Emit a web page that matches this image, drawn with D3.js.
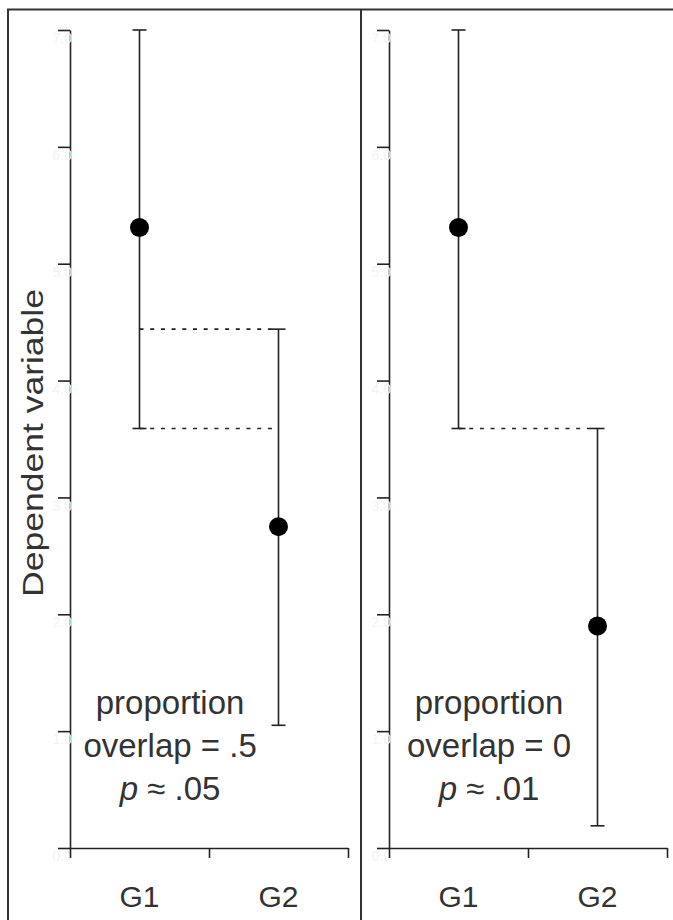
<!DOCTYPE html>
<html>
<head>
<meta charset="utf-8">
<script src="https://cdn.jsdelivr.net/npm/d3@7"></script>
<style>
  html, body { margin: 0; padding: 0; background: #fff; }
  svg { display: block; }
  text { font-family: "Liberation Sans", Arial, sans-serif; fill: #333; }
</style>
</head>
<body>
<svg id="chart" width="673" height="920"></svg>
<script>
(function () {
  'use strict';

  // Data
  const groups = ['G1', 'G2'];
  const groupPos = [0.5, 1.5];
  const xTicks = [0, 1, 2];
  const yTicks = [0, 1, 2, 3, 4, 5, 6, 7];

  const meansLeft = [5.31, 2.75];
  const lowerLeft = [3.59, 1.05];
  const upperLeft = [7.0, 4.44];

  const meansRight = [5.31, 1.90];
  const lowerRight = [3.59, 0.19];
  const upperRight = [7.0, 3.59];

  const notesLeft = ['proportion', 'overlap = .5', ['p', ' \u2248 .05']];
  const notesRight = ['proportion', 'overlap = 0', ['p', ' \u2248 .01']];

  const ink = '#222';
  const svg = d3.select('#chart');

  // outer frame + divider
  svg.append('rect')
    .attr('x', 8).attr('y', 9.5)
    .attr('width', 680).attr('height', 930)
    .attr('fill', 'none').attr('stroke', '#333').attr('stroke-width', 2);
  svg.append('line')
    .attr('x1', 361).attr('x2', 361).attr('y1', 9.5).attr('y2', 930)
    .attr('stroke', '#333').attr('stroke-width', 2);

  const y = d3.scaleLinear().domain([0, 7]).range([848, 30]);

  function drawPanel(left, means, lower, upper, notes, dashedAt) {
    const x = d3.scaleLinear().domain([0, 2]).range([left, left + 278]);
    const g = svg.append('g');

    // y axis (labels whited out in the original)
    const ya = g.append('g')
      .attr('transform', 'translate(' + left + ',0)')
      .call(d3.axisLeft(y).tickValues(yTicks).tickSize(12).tickSizeOuter(0));
    ya.selectAll('text').style('fill', '#f3f3f3').style('font-size', '14px')
      .attr('x', 2).attr('dy', '0.9em');

    // x axis
    const xa = g.append('g')
      .attr('transform', 'translate(0,848)')
      .call(d3.axisBottom(x).tickValues(xTicks).tickSize(10).tickSizeOuter(0).tickFormat(''));

    [ya, xa].forEach(function (a) {
      a.selectAll('path, line').attr('stroke', ink).attr('stroke-width', 1.6);
    });

    g.selectAll('.glabel')
      .data(groups)
      .join('text')
      .attr('x', (d, i) => x(groupPos[i]))
      .attr('y', 907)
      .attr('text-anchor', 'middle')
      .style('font-size', '30px')
      .text(d => d);

    // dotted overlap guides from G1 to G2
    g.selectAll('.guide')
      .data(dashedAt)
      .join('line')
      .attr('x1', x(groupPos[0]))
      .attr('x2', x(groupPos[1]) - 6)
      .attr('y1', d => y(d))
      .attr('y2', d => y(d))
      .attr('stroke', ink)
      .attr('stroke-width', 1.6)
      .attr('stroke-dasharray', '4,6.7');

    // error bars
    const bars = g.selectAll('.bar')
      .data(groups)
      .join('g');
    bars.append('line')
      .attr('x1', (d, i) => x(groupPos[i]))
      .attr('x2', (d, i) => x(groupPos[i]))
      .attr('y1', (d, i) => y(lower[i]))
      .attr('y2', (d, i) => y(upper[i]))
      .attr('stroke', ink).attr('stroke-width', 1.6);
    [lower, upper].forEach(function (arr) {
      bars.append('line')
        .attr('x1', (d, i) => x(groupPos[i]) - 7)
        .attr('x2', (d, i) => x(groupPos[i]) + 7)
        .attr('y1', (d, i) => y(arr[i]))
        .attr('y2', (d, i) => y(arr[i]))
        .attr('stroke', ink).attr('stroke-width', 1.6);
    });
    bars.append('circle')
      .attr('cx', (d, i) => x(groupPos[i]))
      .attr('cy', (d, i) => y(means[i]))
      .attr('r', 9.5)
      .attr('fill', '#000');

    // annotation
    const t = g.append('text')
      .attr('text-anchor', 'middle')
      .style('font-size', '33px');
    notes.forEach(function (line, i) {
      const ts = t.append('tspan')
        .attr('x', x(0.72))
        .attr('y', 714 + i * 43);
      if (Array.isArray(line)) {
        ts.append('tspan').style('font-style', 'italic').text(line[0]);
        t.append('tspan').text(line[1]);
      } else {
        ts.text(line);
      }
    });
  }

  drawPanel(70, meansLeft, lowerLeft, upperLeft, notesLeft, [upperLeft[1], lowerLeft[0]]);
  drawPanel(389, meansRight, lowerRight, upperRight, notesRight, [lowerLeft[0]]);

  svg.append('text')
    .attr('transform', 'translate(43,443) rotate(-90)')
    .attr('text-anchor', 'middle')
    .attr('textLength', 308)
    .attr('lengthAdjust', 'spacingAndGlyphs')
    .style('font-size', '29px')
    .text('Dependent variable');
}());
</script>
</body>
</html>
